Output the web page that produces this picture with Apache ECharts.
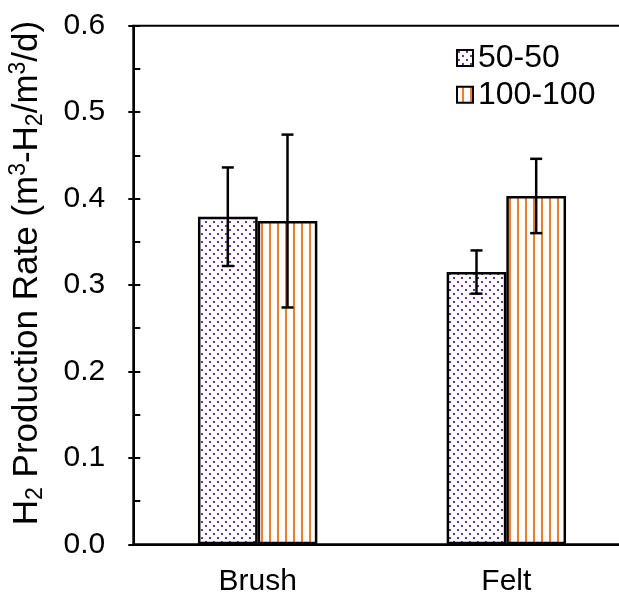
<!DOCTYPE html>
<html>
<head>
<meta charset="utf-8">
<script src="https://cdn.jsdelivr.net/npm/echarts@6/dist/echarts.min.js"></script>
<style>
html,body{margin:0;padding:0;background:#fff;}
#chart{width:619px;height:596px;}
</style>
</head>
<body>
<div id="chart"></div>
<script>
// ---- data ----
var categories = ['Brush', 'Felt'];
var seriesNames = ['50-50', '100-100'];
var rate5050 = [0.379, 0.315];
var rate100100 = [0.374, 0.403];
var err5050 = [0.057, 0.025];
var err100100 = [0.100, 0.043];
var yTicks = [0.0, 0.1, 0.2, 0.3, 0.4, 0.5, 0.6];

var FONT = 'Liberation Sans, Arial, sans-serif';
var BAR_FRAC = 0.24;

function dotPattern() {
  var c = document.createElement('canvas');
  c.width = 8; c.height = 8;
  var g = c.getContext('2d');
  g.fillStyle = '#ffffff'; g.fillRect(0, 0, 8, 8);
  g.fillStyle = '#7030A0';
  g.fillRect(1, 1, 2, 2);
  g.fillRect(5, 5, 2, 2);
  return c;
}
function stripePattern() {
  var c = document.createElement('canvas');
  c.width = 8; c.height = 8;
  var g = c.getContext('2d');
  g.fillStyle = '#ffffff'; g.fillRect(0, 0, 8, 8);
  g.fillStyle = '#ED7D31';
  g.fillRect(5, 0, 2, 8);
  return c;
}

function errData(vals, errs) {
  return vals.map(function (v, i) { return [i, v, errs[i]]; });
}

function errRender(offFrac) {
  return function (params, api) {
    var ci = api.value(0), v = api.value(1), e = api.value(2);
    var band = api.size([1, 0])[0];
    var off = offFrac * band;
    var top = api.coord([ci, v + e]);
    var bot = api.coord([ci, v - e]);
    var x = top[0] + off;
    var cap = 6;
    var st = { stroke: '#000', lineWidth: 2.5 };
    return {
      type: 'group',
      children: [
        { type: 'line', shape: { x1: x, y1: top[1], x2: x, y2: bot[1] }, style: st },
        { type: 'line', shape: { x1: x - cap, y1: top[1], x2: x + cap, y2: top[1] }, style: st },
        { type: 'line', shape: { x1: x - cap, y1: bot[1], x2: x + cap, y2: bot[1] }, style: st }
      ]
    };
  };
}

var chart = echarts.init(document.getElementById('chart'), null, { renderer: 'canvas' });

var option = {
  animation: false,
  backgroundColor: '#ffffff',
  textStyle: { fontFamily: FONT },
  grid: {
    left: 133.3, top: 25.7, right: -11.7, bottom: 51.7,
    containLabel: false,
    outerBoundsMode: 'none',
    show: true, borderColor: '#000', borderWidth: 2, backgroundColor: 'transparent'
  },
  legend: {
    data: seriesNames,
    orient: 'vertical',
    left: 451, top: 37,
    itemWidth: 16, itemHeight: 16,
    itemGap: 4.7,
    icon: 'rect',
    textStyle: { fontSize: 32, color: '#000', fontFamily: FONT }
  },
  xAxis: {
    type: 'category',
    data: categories,
    axisLine: { lineStyle: { color: '#000', width: 2 } },
    axisTick: { show: false },
    axisLabel: { fontSize: 30, color: '#000', fontFamily: FONT, margin: 22 },
    splitLine: { show: false }
  },
  yAxis: [{
    type: 'value',
    min: 0, max: 0.6, interval: 0.1,
    axisLine: { show: true, lineStyle: { color: '#000', width: 2 } },
    axisTick: { show: true, inside: true, length: 7, lineStyle: { color: '#000', width: 2 } },
    minorTick: { show: true, splitNumber: 2, length: 7, lineStyle: { color: '#000', width: 2 } },
    axisLabel: {
      fontSize: 30, color: '#000', fontFamily: FONT, margin: 28,
      formatter: function (v) { return v.toFixed(1); }
    },
    splitLine: { show: false },
    name: '{b|H}{sub|2}{b| Production Rate (m}{sup|3}{b|-H}{sub|2}{b|/m}{sup|3}{b|/d)}',
    nameLocation: 'middle',
    nameRotate: 90,
    nameGap: 86,
    nameTextStyle: {
      padding: [0, 0, 0, 24],
      rich: {
        b: { fontSize: 35, color: '#000', fontFamily: FONT, lineHeight: 40, verticalAlign: 'middle' },
        sub: { fontSize: 23, color: '#000', fontFamily: FONT, lineHeight: 40, verticalAlign: 'bottom' },
        sup: { fontSize: 23, color: '#000', fontFamily: FONT, lineHeight: 40, verticalAlign: 'top' }
      }
    }
  }, {
    type: 'value',
    min: 0, max: 0.6, interval: 0.1,
    position: 'left',
    axisLine: { show: false },
    axisTick: { show: true, inside: false, length: 5, lineStyle: { color: '#000', width: 2 } },
    axisLabel: { show: false },
    splitLine: { show: false }
  }],
  series: [{
    name: seriesNames[0],
    type: 'bar',
    data: rate5050,
    barWidth: (BAR_FRAC * 100) + '%',
    barGap: '0%',
    itemStyle: { color: { image: dotPattern(), repeat: 'repeat' }, borderColor: '#000', borderWidth: 2.5 },
    z: 2
  }, {
    name: seriesNames[1],
    type: 'bar',
    data: rate100100,
    barWidth: (BAR_FRAC * 100) + '%',
    barGap: '0%',
    itemStyle: { color: { image: stripePattern(), repeat: 'repeat' }, borderColor: '#000', borderWidth: 2.5 },
    z: 2
  }, {
    type: 'custom',
    name: 'err5050',
    data: errData(rate5050, err5050),
    renderItem: errRender(-BAR_FRAC / 2),
    encode: { x: 0, y: 1 },
    z: 5
  }, {
    type: 'custom',
    name: 'err100100',
    data: errData(rate100100, err100100),
    renderItem: errRender(BAR_FRAC / 2),
    encode: { x: 0, y: 1 },
    z: 5
  }]
};
chart.setOption(option);
</script>
</body>
</html>
